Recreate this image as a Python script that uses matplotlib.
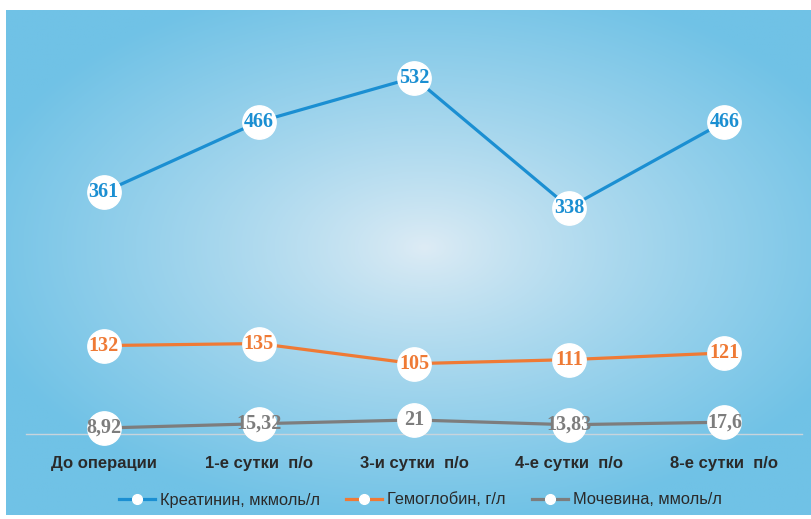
import numpy as np
import matplotlib.pyplot as plt
from matplotlib.lines import Line2D

categories = ["До операции", "1-е сутки  п/о", "3-и сутки  п/о", "4-е сутки  п/о", "8-е сутки  п/о"]
creatinine = [361, 466, 532, 338, 466]
hemoglobin = [132, 135, 105, 111, 121]
urea = [8.92, 15.32, 21, 13.83, 17.6]
urea_labels = ["8,92", "15,32", "21", "13,83", "17,6"]
series_names = ["Креатинин, мкмоль/л", "Гемоглобин, г/л", "Мочевина, ммоль/л"]
colors = ["#1b8fd2", "#ef7a35", "#7d7d7d"]

W, H = 811, 519
fig = plt.figure(figsize=(W / 100, H / 100), dpi=100)
fig.patch.set_facecolor("white")

# background gradient panel
bx0, by0, bx1, by1 = 6, 10, 811, 515
bg = fig.add_axes([bx0 / W, 1 - by1 / H, (bx1 - bx0) / W, (by1 - by0) / H])
bg.set_axis_off()
ny, nx = 200, 320
yy, xx = np.mgrid[0:1:ny * 1j, 0:1:nx * 1j]
cx, cy = 0.52, 0.47
dx = (xx - cx) / 0.58
dy = (yy - cy) / 0.55
d = np.clip(np.sqrt(dx ** 2 + dy ** 2), 0, 1) ** 0.85
edge = np.array([112, 194, 230]) / 255
center = np.array([222, 236, 245]) / 255
img = center[None, None, :] * (1 - d[..., None]) + edge[None, None, :] * d[..., None]
bg.imshow(img, aspect="auto", extent=[0, 1, 0, 1], origin="upper")

# main axes
left_px, right_px = 26, 802
zero_px, top_px = 434, 32
ymax = 600
ax = fig.add_axes([left_px / W, 1 - zero_px / H, (right_px - left_px) / W, (zero_px - top_px) / H])
ax.patch.set_alpha(0)
x = np.arange(len(categories))
ax.set_xlim(-0.5, len(categories) - 0.5)
ax.set_ylim(0, ymax)

for vals, col, labels in [
    (creatinine, colors[0], [str(v) for v in creatinine]),
    (hemoglobin, colors[1], [str(v) for v in hemoglobin]),
    (urea, colors[2], urea_labels),
]:
    ax.plot(x, vals, color=col, lw=2.3, marker="o", ms=24, mfc="white", mec="white", zorder=3, clip_on=False)
    for xi, v, lab in zip(x, vals, labels):
        ax.text(xi, v, lab, color=col, ha="center", va="center", fontsize=14.5, fontweight="bold",
                family="Liberation Serif", zorder=4)

for s in ["left", "right", "top"]:
    ax.spines[s].set_visible(False)
ax.spines["bottom"].set_color("#c8d4dc")
ax.spines["bottom"].set_linewidth(1)
ax.set_yticks([])
ax.set_xticks(x)
ax.set_xticklabels(categories, fontsize=12, fontweight="bold", color="#2a2a2a",
                   family=["Liberation Sans Narrow", "Liberation Sans"])
ax.tick_params(axis="x", length=0, pad=16)

handles = [Line2D([0], [0], color=c, lw=2.3, marker="o", ms=7, mfc="white", mec="white") for c in colors]
fig.legend(handles, series_names, loc="center", bbox_to_anchor=(0.518, 1 - 500 / H), ncol=3,
           frameon=False, prop={"family": ["Liberation Sans Narrow", "Liberation Sans"], "size": 11.8},
           labelcolor="#2a2a2a", handlelength=2.2, handletextpad=0.3, columnspacing=1.6)

fig.savefig("out.png", dpi=100)
